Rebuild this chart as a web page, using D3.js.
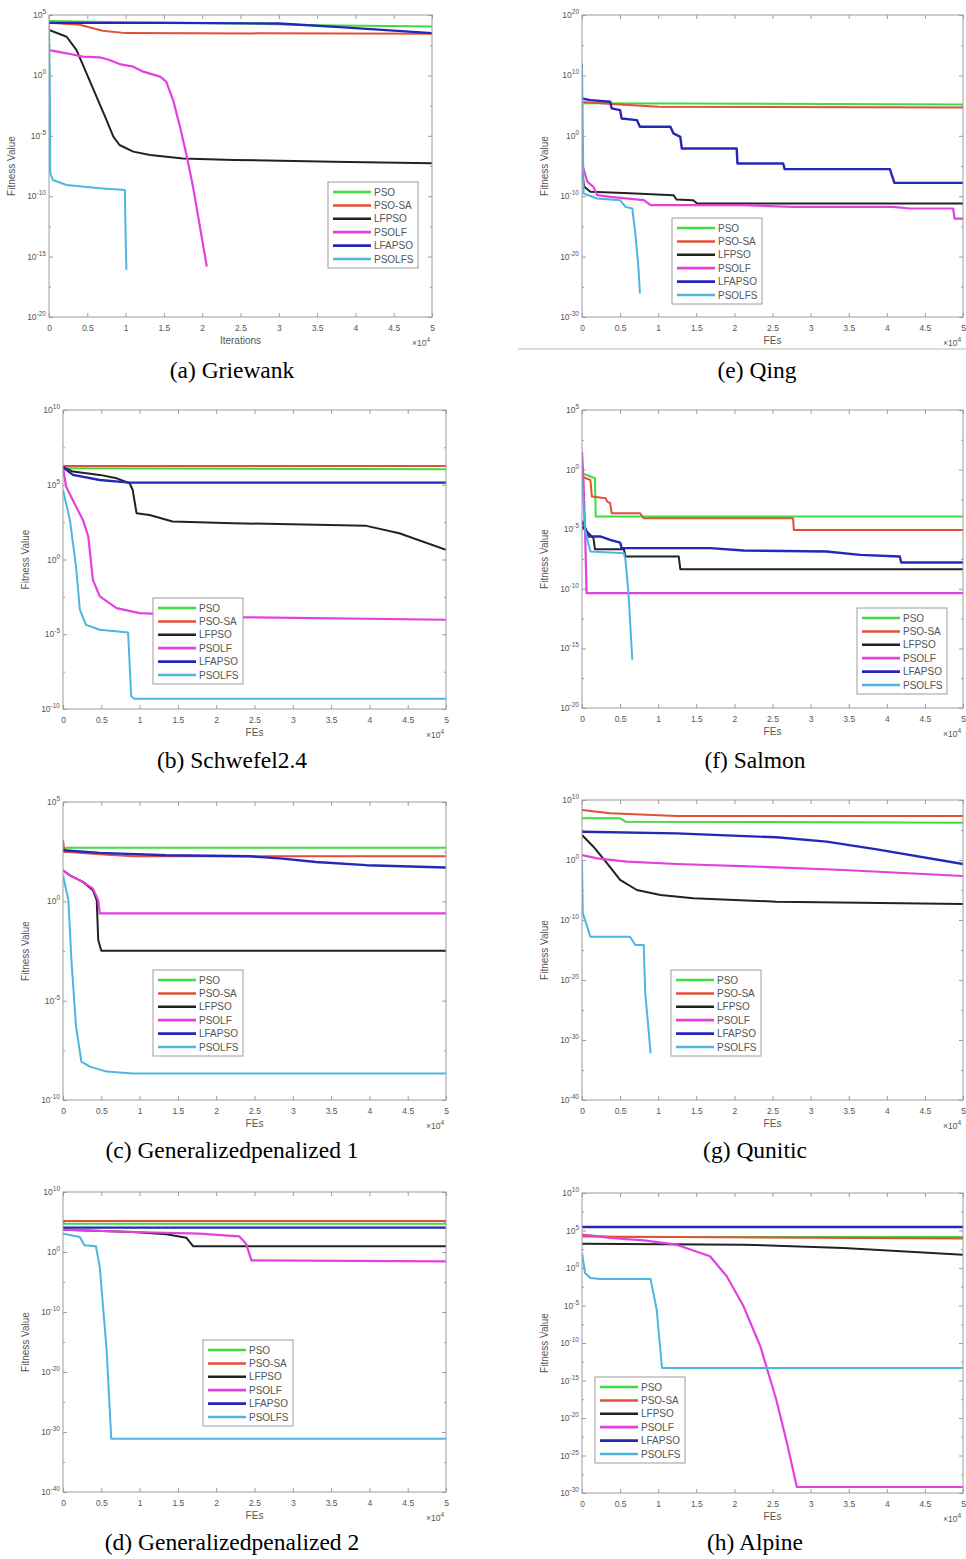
<!DOCTYPE html>
<html><head><meta charset="utf-8">
<script src="https://cdn.jsdelivr.net/npm/d3@7/dist/d3.min.js"></script>
<style>body{margin:0;background:#fff}svg{display:block}</style>
</head><body>
<svg id="c" width="966" height="1559"></svg>
<script>
// ---------- data ----------
const seriesNames = ["PSO", "PSO-SA", "LFPSO", "PSOLF", "LFAPSO", "PSOLFS"];
const xTickValues = [0, 0.5, 1, 1.5, 2, 2.5, 3, 3.5, 4, 4.5, 5];
const xTickLabels = ["0", "0.5", "1", "1.5", "2", "2.5", "3", "3.5", "4", "4.5", "5"];
// points: [evaluations (x10^4), log10(fitness)]

// (a) Griewank
const aYTicks = [5, 0, -5, -10, -15, -20];
const aPSO = [[0,4.5],[1,4.4],[2.5,4.3],[3.5,4.15],[5,4.05]];
const aPSOSA = [[0,4.35],[0.4,4.2],[0.7,3.7],[1,3.5],[5,3.45]];
const aLFPSO = [[0,3.76],[0.23,3.2],[0.36,2.1],[0.49,0.17],[0.62,-1.76],[0.75,-3.69],[0.84,-5.07],[0.92,-5.76],[1.1,-6.31],[1.32,-6.59],[1.75,-6.87],[2.41,-7.0],[3.71,-7.14],[5,-7.28]];
const aPSOLF = [[0,2.1],[0.23,1.83],[0.44,1.55],[0.66,1.5],[0.79,1.27],[0.92,0.94],[1.1,0.72],[1.23,0.31],[1.45,-0.1],[1.53,-0.52],[1.62,-2.04],[1.71,-4.24],[1.8,-6.73],[1.88,-9.21],[1.97,-12.52],[2.06,-15.83]];
const aLFAPSO = [[0,4.35],[1.5,4.35],[3,4.3],[3.8,4.0],[5,3.5]];
const aPSOLFS = [[0,4.2],[0.01,0],[0.017,-8.1],[0.05,-8.66],[0.23,-9.07],[0.66,-9.35],[0.99,-9.49],[1.0,-13.07],[1.01,-16.1]];

// (e) Qing
const eYTicks = [20, 10, 0, -10, -20, -30];
const ePSO = [[0,5.4],[5,5.2]];
const ePSOSA = [[0,5.6],[0.5,5.2],[1,4.8],[5,4.7]];
const eLFPSO = [[0,-6],[0.03,-8.45],[0.11,-9.28],[0.55,-9.45],[1.2,-9.83],[1.24,-10.55],[1.46,-10.66],[1.51,-11.2],[5,-11.2]];
const ePSOLF = [[0,-4.59],[0.07,-7.6],[0.15,-8.45],[0.2,-9.83],[0.37,-10.1],[0.81,-10.66],[0.9,-11.49],[2.12,-11.49],[2.77,-11.77],[4.08,-11.77],[4.3,-12.04],[4.87,-12.04],[4.89,-13.7],[5,-13.7]];
const eLFAPSO = [[0,6.19],[0.11,5.91],[0.37,5.64],[0.39,4.53],[0.5,4.25],[0.52,2.87],[0.72,2.6],[0.76,1.49],[1.16,1.49],[1.2,0.39],[1.29,-0.17],[1.31,-2.1],[2.03,-2.1],[2.04,-4.59],[2.64,-4.59],[2.66,-5.52],[4.04,-5.52],[4.1,-7.79],[5,-7.79]];
const ePSOLFS = [[0,12],[0.02,-9.56],[0.2,-10.39],[0.5,-10.66],[0.57,-11.77],[0.66,-12.04],[0.7,-16.19],[0.74,-21.7],[0.76,-26.1]];

// (b) Schwefel2.4
const bYTicks = [10, 5, 0, -5, -10];
const bPSO = [[0,6.1],[5,6.04]];
const bPSOSA = [[0,6.26],[5,6.26]];
const bLFPSO = [[0,6.17],[0.13,5.88],[0.48,5.66],[0.7,5.43],[0.87,5.1],[0.91,4.65],[0.96,3.1],[1.13,2.98],[1.43,2.54],[2.22,2.43],[3.96,2.25],[4.39,1.76],[5,0.65]];
const bPSOLF = [[0,6.17],[0.04,4.88],[0.17,3.54],[0.26,2.65],[0.33,1.54],[0.39,-1.36],[0.48,-2.47],[0.7,-3.25],[1.0,-3.59],[2.22,-3.85],[5,-4.03]];
const bLFAPSO = [[0,6.17],[0.13,5.66],[0.48,5.32],[0.87,5.14],[5,5.14]];
const bPSOLFS = [[0,4.65],[0.09,2.65],[0.17,-0.47],[0.22,-3.36],[0.3,-4.37],[0.48,-4.7],[0.85,-4.88],[0.89,-9.15],[0.93,-9.31],[5,-9.31]];

// (f) Salmon
const fYTicks = [5, 0, -5, -10, -15, -20];
const fPSO = [[0,-0.31],[0.17,-0.73],[0.18,-3.94],[5,-3.94]];
const fPSOSA = [[0,-0.59],[0.11,-0.87],[0.13,-2.26],[0.31,-2.4],[0.33,-2.68],[0.37,-2.82],[0.39,-3.66],[0.76,-3.66],[0.81,-4.08],[2.77,-4.08],[2.78,-5.06],[5,-5.06]];
const fLFPSO = [[0,-4.78],[0.15,-5.75],[0.17,-6.68],[0.55,-6.68],[0.57,-7.29],[1.27,-7.29],[1.29,-8.35],[5,-8.35]];
const fPSOLF = [[0,1.5],[0.02,-1],[0.04,-5],[0.06,-10.36],[5,-10.36]];
const fLFAPSO = [[0,-4.3],[0.09,-5.61],[0.24,-5.61],[0.37,-5.89],[0.5,-6.12],[0.52,-6.59],[1.68,-6.59],[2.12,-6.79],[3.21,-6.87],[3.65,-7.15],[4.17,-7.29],[4.19,-7.79],[5,-7.79]];
const fPSOLFS = [[0,-0.87],[0.04,-5.06],[0.11,-6.87],[0.55,-7.01],[0.57,-7.57],[0.61,-10.36],[0.66,-15.95]];

// (c) Generalizedpenalized 1
const cYTicks = [5, 0, -5, -10];
const cPSO = [[0,2.57],[0.05,2.7],[5,2.7]];
const cPSOSA = [[0,3.07],[0.02,2.49],[0.48,2.37],[0.91,2.27],[5,2.27]];
const cLFPSO = [[0,1.56],[0.09,1.31],[0.26,0.98],[0.39,0.56],[0.44,0.06],[0.46,-1.95],[0.5,-2.49],[5,-2.49]];
const cPSOLF = [[0,1.56],[0.09,1.31],[0.26,0.98],[0.39,0.64],[0.46,0.06],[0.48,-0.61],[5,-0.61]];
const cLFAPSO = [[0,2.57],[0.48,2.44],[1.35,2.32],[2.43,2.27],[2.87,2.15],[3.3,1.98],[3.96,1.82],[5,1.7]];
const cPSOLFS = [[0,1.31],[0.07,0.06],[0.11,-2.96],[0.17,-6.31],[0.24,-8.07],[0.35,-8.32],[0.57,-8.57],[0.91,-8.66],[5,-8.66]];

// (g) Qunitic
const gYTicks = [10, 0, -10, -20, -30, -40];
const gPSO = [[0,6.94],[0.5,6.94],[0.57,6.39],[5,6.22]];
const gPSOSA = [[0,8.33],[0.37,7.78],[1.24,7.33],[5,7.33]];
const gLFPSO = [[0,4.17],[0.15,2.22],[0.33,-0.56],[0.5,-3.33],[0.72,-5.0],[1.03,-5.83],[1.46,-6.39],[2.55,-6.94],[5,-7.33]];
const gPSOLF = [[0,0.83],[0.2,0.28],[0.59,-0.28],[1.24,-0.67],[2.55,-1.22],[3.43,-1.67],[5,-2.67]];
const gLFAPSO = [[0,4.72],[1.24,4.44],[2.55,3.78],[3.21,3.06],[3.87,1.78],[5,-0.67]];
const gPSOLFS = [[0,0],[0.01,-8.89],[0.04,-10],[0.11,-12.78],[0.63,-12.78],[0.7,-14.17],[0.81,-14.17],[0.83,-22.22],[0.87,-27.78],[0.9,-32.22]];

// (d) Generalizedpenalized 2
const dYTicks = [10, 0, -10, -20, -30, -40];
const dPSO = [[0,4.72],[5,4.72]];
const dPSOSA = [[0,5.17],[5,5.17]];
const dLFPSO = [[0,3.72],[0.91,3.33],[1.35,2.94],[1.61,2.39],[1.7,0.94],[5,0.94]];
const dPSOLF = [[0,3.72],[0.91,3.33],[1.78,3.06],[2.3,2.61],[2.39,1.39],[2.46,-1.39],[5,-1.56]];
const dLFAPSO = [[0,4.06],[5,4.06]];
const dPSOLFS = [[0,3.06],[0.22,2.5],[0.28,1.11],[0.43,0.94],[0.48,-2.5],[0.57,-16.39],[0.63,-31.11],[5,-31.11]];

// (h) Alpine
const hYTicks = [10, 5, 0, -5, -10, -15, -20, -25, -30];
const hPSO = [[0,4.44],[0.37,4.13],[5,4.13]];
const hPSOSA = [[0,4.2],[5,3.95]];
const hLFPSO = [[0,3.24],[2.12,3.11],[3.43,2.67],[5,1.78]];
const hPSOLF = [[0,4.44],[0.37,4.0],[0.81,3.69],[1.24,3.11],[1.68,1.56],[1.9,-1.11],[2.12,-5.11],[2.34,-10.44],[2.55,-17.56],[2.69,-23.33],[2.82,-29.2],[5,-29.2]];
const hLFAPSO = [[0,5.47],[5,5.47]];
const hPSOLFS = [[0,2],[0.04,-0.67],[0.11,-1.33],[0.24,-1.47],[0.9,-1.47],[0.98,-5.56],[1.05,-13.33],[5,-13.33]];

const panels = [
  {key:"a", caption:"(a) Griewank", xlabel:"Iterations", yTicks:aYTicks, series:[aPSO,aPSOSA,aLFPSO,aPSOLF,aLFAPSO,aPSOLFS]},
  {key:"e", caption:"(e) Qing", xlabel:"FEs", yTicks:eYTicks, series:[ePSO,ePSOSA,eLFPSO,ePSOLF,eLFAPSO,ePSOLFS]},
  {key:"b", caption:"(b) Schwefel2.4", xlabel:"FEs", yTicks:bYTicks, series:[bPSO,bPSOSA,bLFPSO,bPSOLF,bLFAPSO,bPSOLFS]},
  {key:"f", caption:"(f) Salmon", xlabel:"FEs", yTicks:fYTicks, series:[fPSO,fPSOSA,fLFPSO,fPSOLF,fLFAPSO,fPSOLFS]},
  {key:"c", caption:"(c) Generalizedpenalized 1", xlabel:"FEs", yTicks:cYTicks, series:[cPSO,cPSOSA,cLFPSO,cPSOLF,cLFAPSO,cPSOLFS]},
  {key:"g", caption:"(g) Qunitic", xlabel:"FEs", yTicks:gYTicks, series:[gPSO,gPSOSA,gLFPSO,gPSOLF,gLFAPSO,gPSOLFS]},
  {key:"d", caption:"(d) Generalizedpenalized 2", xlabel:"FEs", yTicks:dYTicks, series:[dPSO,dPSOSA,dLFPSO,dPSOLF,dLFAPSO,dPSOLFS]},
  {key:"h", caption:"(h) Alpine", xlabel:"FEs", yTicks:hYTicks, series:[hPSO,hPSOSA,hLFPSO,hPSOLF,hLFAPSO,hPSOLFS]}
];

// ---------- layout & style ----------
const layout = {
  a:{x0:49, x1:432, y0:15, y1:317, lg:[328,182], cap:[232,378]},
  e:{x0:582, x1:963, y0:15, y1:317, lg:[672,218], cap:[757,378]},
  b:{x0:63, x1:446, y0:410, y1:709, lg:[153,598], cap:[232,768]},
  f:{x0:582, x1:963, y0:410, y1:708, lg:[857,608], cap:[755,768]},
  c:{x0:63, x1:446, y0:802, y1:1100, lg:[153,970], cap:[232,1158]},
  g:{x0:582, x1:963, y0:800, y1:1100, lg:[671,970], cap:[755,1158]},
  d:{x0:63, x1:446, y0:1192, y1:1492, lg:[203,1340], cap:[232,1550]},
  h:{x0:582, x1:963, y0:1193, y1:1493, lg:[595,1377], cap:[755,1550]}
};
const colors = ["#3fdc3f", "#e2503a", "#222222", "#e440e0", "#2626b8", "#4cb6e0"];
const widths = [2, 2, 2, 2.2, 2.4, 2];
const axisColor = "#9c9c9c";
const textColor = "#555";
const sansFont = "Liberation Sans, Arial, sans-serif";

const svg = d3.select("#c");
const defs = svg.append("defs");

function drawPanel(p) {
  const L = layout[p.key];
  const g = svg.append("g");
  const top = p.yTicks[0], bot = p.yTicks[p.yTicks.length - 1];
  const x = d3.scaleLinear().domain([0, 5]).range([L.x0, L.x1]);
  const y = d3.scaleLog().domain([Math.pow(10, bot), Math.pow(10, top)]).range([L.y1, L.y0]);

  defs.append("clipPath").attr("id", "clip" + p.key)
    .append("rect").attr("x", L.x0).attr("y", L.y0)
    .attr("width", L.x1 - L.x0).attr("height", L.y1 - L.y0);

  g.append("rect").attr("x", L.x0).attr("y", L.y0)
    .attr("width", L.x1 - L.x0).attr("height", L.y1 - L.y0)
    .attr("fill", "#fff");

  // x axes
  const xb = g.append("g").attr("transform", `translate(0,${L.y1})`)
    .call(d3.axisBottom(x).tickValues(xTickValues).tickFormat((d, i) => xTickLabels[i])
      .tickSizeInner(-4).tickSizeOuter(0).tickPadding(8));
  const xt = g.append("g").attr("transform", `translate(0,${L.y0})`)
    .call(d3.axisTop(x).tickValues(xTickValues).tickFormat("").tickSizeInner(-4).tickSizeOuter(0));

  // y axes (log), majors + minors
  const majors = p.yTicks.map(e => Math.pow(10, e));
  const minors = [];
  for (let i = 0; i < p.yTicks.length - 1; i++) minors.push(Math.pow(10, (p.yTicks[i] + p.yTicks[i + 1]) / 2));
  const yl = g.append("g").attr("transform", `translate(${L.x0},0)`)
    .call(d3.axisLeft(y).tickValues(majors).tickFormat("").tickSizeInner(-4).tickSizeOuter(0));
  const yr = g.append("g").attr("transform", `translate(${L.x1},0)`)
    .call(d3.axisRight(y).tickValues(majors).tickFormat("").tickSizeInner(-4).tickSizeOuter(0));
  const ylm = g.append("g").attr("transform", `translate(${L.x0},0)`)
    .call(d3.axisLeft(y).tickValues(minors).tickFormat("").tickSizeInner(-2).tickSizeOuter(0));
  const yrm = g.append("g").attr("transform", `translate(${L.x1},0)`)
    .call(d3.axisRight(y).tickValues(minors).tickFormat("").tickSizeInner(-2).tickSizeOuter(0));
  [xb, xt, yl, yr, ylm, yrm].forEach(a => {
    a.select(".domain").remove();
    a.selectAll("line").attr("stroke", axisColor);
    a.selectAll("text").attr("fill", textColor).attr("font-size", 8.5).attr("font-family", sansFont);
  });

  // y tick labels 10^e
  p.yTicks.forEach(e => {
    const t = g.append("text").attr("x", L.x0 - 3).attr("y", y(Math.pow(10, e)) + 3)
      .attr("text-anchor", "end").attr("fill", textColor).attr("font-family", sansFont).attr("font-size", 8.5);
    t.append("tspan").text("10");
    t.append("tspan").attr("dy", -4).attr("font-size", 6.5).text(String(e));
  });

  // lines
  const line = d3.line().x(d => x(d[0])).y(d => y(Math.pow(10, d[1])));
  const lg = g.append("g").attr("clip-path", `url(#clip${p.key})`);
  p.series.forEach((s, i) => {
    lg.append("path").attr("d", line(s)).attr("fill", "none")
      .attr("stroke", colors[i]).attr("stroke-width", widths[i]).attr("stroke-linejoin", "round");
  });

  // box
  g.append("rect").attr("x", L.x0).attr("y", L.y0)
    .attr("width", L.x1 - L.x0).attr("height", L.y1 - L.y0)
    .attr("fill", "none").attr("stroke", axisColor).attr("stroke-width", 1);

  // labels
  g.append("text").attr("x", (L.x0 + L.x1) / 2).attr("y", L.y1 + 27).attr("text-anchor", "middle")
    .attr("fill", textColor).attr("font-family", sansFont).attr("font-size", 10).text(p.xlabel);
  const ex = g.append("text").attr("x", L.x1 - 2).attr("y", L.y1 + 29).attr("text-anchor", "end")
    .attr("fill", textColor).attr("font-family", sansFont).attr("font-size", 8.5);
  ex.append("tspan").text("\u00d710");
  ex.append("tspan").attr("dy", -4).attr("font-size", 6.5).text("4");
  g.append("text").attr("transform", `translate(${L.x0 - 34},${(L.y0 + L.y1) / 2}) rotate(-90)`)
    .attr("text-anchor", "middle").attr("fill", textColor).attr("font-family", sansFont)
    .attr("font-size", 10).text("Fitness Value");

  // legend
  const [lx, ly] = L.lg;
  const leg = g.append("g");
  leg.append("rect").attr("x", lx).attr("y", ly).attr("width", 90).attr("height", 86)
    .attr("fill", "#fff").attr("stroke", axisColor).attr("stroke-width", 1);
  seriesNames.forEach((n, i) => {
    const yy = ly + 10 + i * 13.4;
    leg.append("line").attr("x1", lx + 5).attr("x2", lx + 43).attr("y1", yy).attr("y2", yy)
      .attr("stroke", colors[i]).attr("stroke-width", widths[i] + 0.5);
    leg.append("text").attr("x", lx + 46).attr("y", yy + 3.5).attr("fill", textColor)
      .attr("font-family", sansFont).attr("font-size", 10).text(n);
  });

  // caption
  svg.append("text").attr("x", L.cap[0]).attr("y", L.cap[1]).attr("text-anchor", "middle")
    .attr("font-family", "Liberation Serif, Times New Roman, serif").attr("font-size", 23.5)
    .attr("fill", "#000").text(p.caption);
}

panels.forEach(drawPanel);

// separator under panel (e)
svg.append("line").attr("x1", 518).attr("x2", 966).attr("y1", 349).attr("y2", 349)
  .attr("stroke", "#bbb").attr("stroke-width", 1.2);
</script>
</body></html>
